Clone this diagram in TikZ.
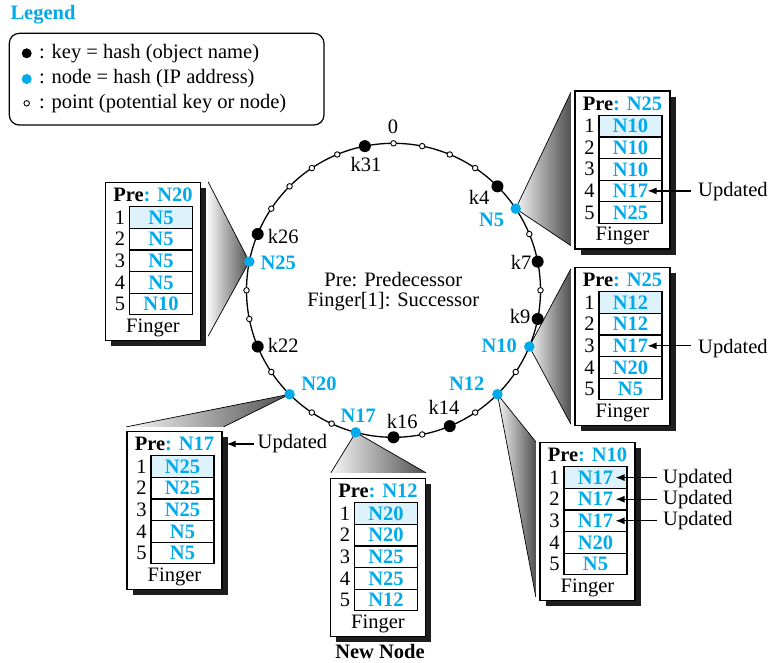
\documentclass[tikz,border=0pt]{standalone}
\usepackage{fontspec}
\setmainfont{Liberation Serif}
\usetikzlibrary{arrows.meta,calc}
\definecolor{nblue}{RGB}{0,170,235}
\definecolor{cellfill}{RGB}{222,242,251}
\definecolor{shadowc}{RGB}{30,30,30}
\definecolor{conelight}{RGB}{245,245,245}
\definecolor{conedark}{RGB}{80,80,80}
\newcommand{\fsz}{\fontsize{20.5}{24}\selectfont}
\tikzset{
  txt/.style={inner sep=0pt},
  tabbox/.style={draw, fill=white, line width=1.3pt, minimum width=95pt, minimum height=158pt, inner sep=0pt},
  cell/.style={draw, line width=1.2pt, minimum width=63pt, minimum height=21.6pt, inner sep=0pt, font=\fsz\bfseries, text=nblue},
  firstcell/.style={cell, fill=cellfill},
  kdot/.style={circle, fill=black, minimum size=12pt, inner sep=0pt},
  ndot/.style={circle, fill=nblue, minimum size=10.5pt, inner sep=0pt},
  wdot/.style={circle, draw=black, fill=white, line width=0.9pt, minimum size=5.5pt, inner sep=0pt},
  klab/.style={inner sep=0pt},
  nlab/.style={inner sep=0pt, font=\fsz\bfseries, text=nblue},
  cone/.style={left color=conelight, right color=conedark},
  coneedge/.style={draw=black, line width=0.7pt},
  arr/.style={line width=1.2pt, -{Latex[length=9pt,width=7pt]}},
  ring/.style={line width=1.3pt}
}
\newcommand{\fingertab}[9]{%
  \begin{scope}[shift={(#2,#3)}]
    \fill[shadowc] (5.5,5.5) rectangle (100.5,163.5);
    \node[tabbox] (#1) at (47.5,79) {};
    \node[txt] (#1-pre) at (47.5,12.5) {\textbf{Pre}\textcolor{nblue}{\textbf{: #4}}};
    \node[firstcell] (#1-1) at (55.5,35.1) {#5};
    \node[cell] (#1-2) at (55.5,56.7) {#6};
    \node[cell] (#1-3) at (55.5,78.3) {#7};
    \node[cell] (#1-4) at (55.5,99.9) {#8};
    \node[cell] (#1-5) at (55.5,121.5) {#9};
    \node[txt] (#1-i1) at (14.5,35.1) {1};
    \node[txt] (#1-i2) at (14.5,56.7) {2};
    \node[txt] (#1-i3) at (14.5,78.3) {3};
    \node[txt] (#1-i4) at (14.5,99.9) {4};
    \node[txt] (#1-i5) at (14.5,121.5) {5};
    \node[txt] (#1-fin) at (47.5,145) {Finger};
  \end{scope}}
\begin{document}
\begin{tikzpicture}[x=1pt, y=-1pt, font=\fsz]
\useasboundingbox (0,0) rectangle (774,662);

% Legend
\node[txt, font=\fsz\bfseries, text=nblue] (legtitle) at (43,15) {Legend};
\draw[line width=1.2pt, rounded corners=10pt] (9.3,33.3) rectangle (324,125);
\node[kdot, minimum size=10pt] (lk) at (26.7,53.3) {};
\node[ndot, minimum size=10pt] (ln) at (26.7,79) {};
\node[wdot] (lp) at (26.7,103.3) {};
\node[txt, anchor=west] (lkt) at (39,53.3) {: key = hash (object name)};
\node[txt, anchor=west] (lnt) at (39,79) {: node = hash (IP address)};
\node[txt, anchor=west] (lpt) at (39,103.3) {: point (potential key or node)};

% Tables
\fingertab{T25}{105.5}{182.5}{N20}{N5}{N5}{N5}{N5}{N10}
\fingertab{T5}{575}{91}{N25}{N10}{N10}{N10}{N17}{N25}
\fingertab{T10}{575}{267.5}{N25}{N12}{N12}{N17}{N20}{N5}
\fingertab{T20}{127}{431.5}{N17}{N25}{N25}{N25}{N5}{N5}
\fingertab{T17}{330.5}{478.5}{N12}{N20}{N20}{N25}{N25}{N12}
\fingertab{T12}{540}{442.5}{N10}{N17}{N17}{N17}{N20}{N5}
\node[txt, font=\fsz\bfseries] (newnode) at (380,651) {New Node};

% ring geometry
\coordinate (C) at (393.5,290.3);
\foreach \k in {0,...,31} {\coordinate (q\k) at ($(C)+({-90+11.25*\k}:147)$);}
\coordinate (q17) at ($(C)+(104.9:147)$);
\coordinate (q18) at ($(C)+(114.9:147)$);

% Cones
\shade[cone] (q25) -- ([xshift=7pt]T25.north east) -- ([xshift=7pt,yshift=5pt]T25.south east) -- cycle;
\draw[coneedge] ([xshift=7pt]T25.north east) -- (q25) -- ([xshift=7pt,yshift=5pt]T25.south east);
\shade[cone] (q5) -- ([xshift=-3.5pt,yshift=-2pt]T5.north west) -- ([xshift=-3.5pt,yshift=4pt]T5.south west) -- cycle;
\draw[coneedge] ([xshift=-3.5pt,yshift=-2pt]T5.north west) -- (q5) -- ([xshift=-3.5pt,yshift=4pt]T5.south west);
\shade[cone] (q10) -- ([xshift=-3.5pt,yshift=-2pt]T10.north west) -- ([xshift=-3.5pt,yshift=2pt]T10.south west) -- cycle;
\draw[coneedge] ([xshift=-3.5pt,yshift=-2pt]T10.north west) -- (q10) -- ([xshift=-3.5pt,yshift=2pt]T10.south west);
\shade[cone] (q12) -- ([xshift=-3.5pt]T12.north west) -- ([xshift=-3.5pt,yshift=4pt]T12.south west) -- cycle;
\draw[coneedge] ([xshift=-3.5pt]T12.north west) -- (q12) -- ([xshift=-3.5pt,yshift=4pt]T12.south west);
\shade[cone] (q17) -- ([xshift=1pt,yshift=5pt]T17.north west) -- ([yshift=5pt]T17.north east) -- cycle;
\draw[coneedge] ([xshift=1pt,yshift=5pt]T17.north west) -- (q17) -- ([yshift=5pt]T17.north east);
\shade[cone] (q20) -- ([yshift=4pt]T20.north west) -- ([xshift=1pt,yshift=4pt]T20.north east) -- cycle;
\draw[coneedge] ([yshift=4pt]T20.north west) -- (q20) -- ([xshift=1pt,yshift=4pt]T20.north east);

% Ring
\draw[ring] (C) circle[radius=147];

% points
\foreach \k in {0,1,2,3,6,8,11,13,15,18,19,21,23,24,27,28,29,30} {\node[wdot] (p\k) at (q\k) {};}
\foreach \k in {4,7,9,14,16,22,26,31} {\node[kdot] (k\k) at (q\k) {};}
\foreach \k in {5,10,12,17,20,25} {\node[ndot] (n\k) at (q\k) {};}

% ring labels
\node[klab] (l0) at (393,127) {0};
\node[klab] (l31) at (366,164) {k31};
\node[klab] (l4) at (479,197) {k4};
\node[klab] (l7) at (521,262.7) {k7};
\node[klab] (l9) at (520,316.7) {k9};
\node[klab] (l14) at (444,407.7) {k14};
\node[klab] (l16) at (402.3,421.7) {k16};
\node[klab] (l22) at (283.3,345) {k22};
\node[klab] (l26) at (283.3,236.7) {k26};
\node[nlab] (m5) at (491.7,220) {N5};
\node[nlab] (m10) at (499.3,346) {N10};
\node[nlab] (m12) at (466.7,384) {N12};
\node[nlab] (m17) at (358.3,416) {N17};
\node[nlab] (m20) at (319,383.3) {N20};
\node[nlab] (m25) at (278.3,262.7) {N25};

% centre text
\node[txt] (ctr1) at (393.3,279.3) {Pre: Predecessor};
\node[txt] (ctr2) at (393.3,301.7) {Finger[1]: Successor};

% Updated labels and arrows
\node[txt, anchor=west] (u5) at (698,191.7) {Updated};
\node[txt, anchor=west] (u10) at (698,348.3) {Updated};
\node[txt, anchor=west] (u12a) at (663,478.3) {Updated};
\node[txt, anchor=west] (u12b) at (663,499.3) {Updated};
\node[txt, anchor=west] (u12c) at (663,520.7) {Updated};
\node[txt, anchor=west] (u20) at (257.5,443.3) {Updated};
\coordinate (a5) at ($(T5-4.center)+(17,0)$);
\coordinate (a10) at ($(T10-3.center)+(17,0)$);
\coordinate (a12a) at ($(T12-1.center)+(20,0)$);
\coordinate (a12b) at ($(T12-2.center)+(20,0)$);
\coordinate (a12c) at ($(T12-3.center)+(20,0)$);
\coordinate (a20) at ([xshift=4pt]T20.east |- T20-pre);
\draw[arr] ([xshift=-7pt]u5.west |- a5) -- (a5);
\draw[arr] ([xshift=-7pt]u10.west |- a10) -- (a10);
\draw[arr] ([xshift=-6pt]u12a.west |- a12a) -- (a12a);
\draw[arr] ([xshift=-6pt]u12b.west |- a12b) -- (a12b);
\draw[arr] ([xshift=-6pt]u12c.west |- a12c) -- (a12c);
\draw[arr] ([xshift=-4pt]u20.west |- a20) -- (a20);
\end{tikzpicture}
\end{document}
